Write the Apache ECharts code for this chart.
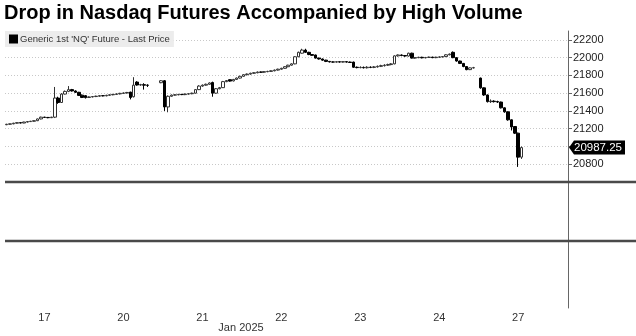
<!DOCTYPE html>
<html><head><meta charset="utf-8">
<script src="https://cdn.jsdelivr.net/npm/echarts@6/dist/echarts.min.js"></script>
<style>html,body{margin:0;padding:0;background:#fff}#c{width:636px;height:336px}</style>
</head><body><div id="c"></div>
<script>
// ---- data ----
const chartTitle = 'Drop in Nasdaq Futures Accompanied by High Volume';
const seriesName = "Generic 1st 'NQ' Future - Last Price";
const slotCount = 164;
const dayLabels = ['17', '20', '21', '22', '23', '24', '27'];
const daySlots = [11, 34, 57, 80, 103, 126, 149];
const monthLabel = 'Jan 2025';
const yTickValues = [20800, 21000, 21200, 21400, 21600, 21800, 22000, 22200];
const yLabelValues = [20800, 21200, 21400, 21600, 21800, 22000, 22200];
const lastPrice = 20987.25;
// [open, close, low, high]
const candles = [
[21245,21250,21240,21255],[21250,21255,21245,21258],[21255,21262,21250,21266],[21262,21268,21258,21272],
[21268,21264,21260,21272],[21264,21275,21262,21278],[21275,21280,21270,21284],[21280,21284,21276,21288],
[21284,21290,21280,21294],[21290,21310,21286,21314],[21310,21330,21305,21336],[21330,21327,21322,21334],
[21327,21324,21318,21332],[21324,21330,21320,21334],[21330,21545,21320,21670],[21545,21495,21480,21560],
[21495,21590,21490,21600],[21590,21620,21585,21630],[21620,21640,21612,21680],[21640,21625,21618,21648],
[21625,21610,21602,21632],[21610,21575,21568,21615],[21578,21552,21545,21585],[21572,21550,21540,21578],
[21552,21558,21548,21564],[21558,21562,21552,21568],[21562,21566,21556,21572],[21566,21572,21560,21578],
[21572,21570,21564,21578],[21570,21576,21565,21582],[21576,21582,21570,21588],[21582,21586,21576,21592],
[21586,21592,21580,21598],[21592,21598,21586,21604],[21598,21602,21592,21608],[21602,21608,21596,21614],
[21612,21552,21530,21616],[21560,21690,21552,21780],[21725,21692,21685,21735],[21692,21696,21684,21705],
[21696,21690,21640,21712],[21690,21688,21670,21700],'-','-',
'-',[21718,21740,21712,21748],[21740,21445,21400,21748],[21445,21565,21385,21575],
[21565,21578,21560,21585],[21578,21582,21572,21590],[21582,21586,21576,21592],[21586,21584,21578,21592],
[21584,21590,21578,21596],[21590,21594,21584,21600],[21594,21600,21588,21606],[21600,21640,21596,21646],
[21640,21680,21635,21690],[21680,21690,21672,21698],[21690,21700,21684,21708],[21700,21715,21694,21722],
[21720,21600,21560,21730],[21600,21650,21595,21658],[21650,21662,21644,21670],[21662,21730,21658,21738],
[21730,21742,21724,21748],[21752,21736,21730,21756],[21738,21755,21732,21760],[21755,21770,21750,21776],
[21770,21790,21765,21796],[21790,21808,21785,21814],[21808,21815,21800,21822],[21815,21824,21808,21830],
[21824,21830,21818,21836],[21830,21838,21824,21844],[21838,21836,21830,21844],[21836,21842,21830,21848],
[21842,21845,21836,21852],[21845,21852,21840,21858],[21852,21860,21846,21866],[21860,21870,21854,21876],
[21870,21880,21864,21886],[21880,21898,21875,21904],[21898,21915,21892,21920],[21915,21930,21910,21936],
[21930,22010,21925,22016],[22010,22060,22005,22068],[22050,22085,22045,22100],[22085,22060,22052,22100],
[22060,22035,22028,22066],[22035,22026,22020,22040],[22030,21995,21990,22034],[21995,21985,21978,22000],
[21985,21972,21965,21990],[21972,21958,21950,21976],[21958,21952,21946,21962],[21952,21950,21944,21958],
[21950,21954,21944,21960],[21954,21950,21944,21958],[21950,21955,21945,21960],[21955,21950,21944,21960],
[21950,21946,21940,21956],[21950,21892,21885,21955],[21892,21888,21880,21900],[21888,21890,21880,21902],
[21890,21886,21878,21900],[21886,21892,21878,21904],[21892,21890,21882,21902],[21890,21896,21882,21906],
[21896,21902,21888,21912],[21902,21910,21894,21920],[21910,21915,21900,21926],[21915,21922,21906,21932],
[21922,21930,21914,21938],[21930,22020,21925,22026],[22020,22030,22012,22036],[22030,22024,22016,22036],
[22024,22018,22010,22030],[22018,22050,22012,22056],[22050,21995,21990,22056],[21995,22000,21988,22006],
[22000,22004,21994,22010],[22004,21998,21992,22010],[21998,22002,21992,22008],[22002,22006,21996,22012],
[22006,22000,21994,22010],[22000,22005,21994,22010],[22005,22008,21998,22014],[22008,22012,22002,22018],
[22012,22032,22006,22038],[22032,22040,22026,22046],[22060,22000,21994,22070],[22000,21962,21955,22005],
[21962,21935,21928,21966],[21935,21900,21892,21940],[21900,21865,21858,21905],[21865,21885,21860,21890],
[21885,21887,21878,21896],'-',[21770,21660,21650,21775],[21660,21580,21570,21665],
[21580,21505,21495,21585],[21505,21510,21490,21530],[21510,21505,21495,21520],[21505,21500,21490,21515],
[21500,21435,21428,21505],[21435,21390,21380,21440],[21390,21300,21290,21395],[21300,21220,21180,21305],
[21225,21150,21140,21230],[21150,20880,20770,21155],[20880,20987.25,20860,21000]
];

// ---- build ----
const categories = Array.from({length: slotCount}, (_, i) => {
  const k = daySlots.indexOf(i); return k >= 0 ? dayLabels[k] : '';
});
const seriesData = Array.from({length: slotCount}, (_, i) => candles[i] !== undefined ? candles[i] : '-');

const L = 5, W = 563, T0 = 31, H0 = 151, H1 = 59, H2 = 67;
const T1 = T0 + H0, T2 = T1 + H1;
const font = 'Liberation Sans';

const chart = echarts.init(document.getElementById('c'), null, {renderer: 'canvas'});
const hiddenX = (gi) => ({type: 'category', gridIndex: gi, data: categories, boundaryGap: true,
  axisLine: {show: false}, axisTick: {show: false}, axisLabel: {show: false}, splitLine: {show: false}});
const lineY = (gi) => ({type: 'value', gridIndex: gi, position: 'right', min: 0, max: 1,
  axisLine: {show: true, lineStyle: {color: '#666', width: 1}}, axisTick: {show: false},
  axisLabel: {show: false}, splitLine: {show: false}});

chart.setOption({
  animation: false,
  backgroundColor: '#fff',
  title: {text: chartTitle, left: 4, top: 3, padding: 0,
    textStyle: {fontSize: 20, fontWeight: 'bold', color: '#000', fontFamily: font}},
  legend: {left: 5, top: 31, padding: [3, 4, 3, 4], backgroundColor: '#ececec',
    itemWidth: 7, itemHeight: 7, icon: 'rect', itemGap: 4,
    textStyle: {fontSize: 9.5, color: '#333', fontFamily: font, padding: [0, 0, 0, -2]},
    data: [{name: seriesName, itemStyle: {color: '#000', borderColor: '#000'}}]},
  grid: [
    {left: L, top: T0, width: W, height: H0},
    {left: L, top: T1, width: W, height: H1},
    {left: L, top: T2, width: W, height: H2}
  ],
  xAxis: [hiddenX(0), hiddenX(1), Object.assign(hiddenX(2), {
    axisLabel: {show: true, interval: (i) => daySlots.includes(i), fontSize: 11, color: '#333',
      fontFamily: font, margin: 4}
  })],
  yAxis: [
    {type: 'value', gridIndex: 0, position: 'right', min: 20600, max: 22300, scale: true,
      axisLine: {show: true, lineStyle: {color: '#666', width: 1}},
      axisTick: {show: true, length: 4, customValues: yTickValues, lineStyle: {color: '#666'}},
      axisLabel: {customValues: yLabelValues, fontSize: 11, color: '#222', fontFamily: font, margin: 5,
        formatter: (v) => String(v)},
      splitLine: {show: true, lineStyle: {color: '#c8c8c8', type: [1, 2], width: 1}}
    },
    lineY(1), lineY(2)
  ],
  series: [{
    name: seriesName, type: 'candlestick', xAxisIndex: 0, yAxisIndex: 0,
    data: seriesData, barWidth: 3,
    itemStyle: {color: '#fff', color0: '#000', borderColor: '#333', borderColor0: '#000', borderWidth: 1}
  }]
});

const yLast = chart.convertToPixel({yAxisIndex: 0}, lastPrice);
const xAx = L + W;
chart.setOption({
  graphic: [
    {type: 'line', shape: {x1: L, y1: T1, x2: 636, y2: T1}, style: {stroke: '#4a4a4a', lineWidth: 2.5}, z: 100},
    {type: 'line', shape: {x1: L, y1: T2, x2: 636, y2: T2}, style: {stroke: '#4a4a4a', lineWidth: 2.5}, z: 100},
    {type: 'polygon', shape: {points: [[xAx + 1, yLast], [xAx + 6, yLast - 7], [xAx + 57, yLast - 7], [xAx + 57, yLast + 7], [xAx + 6, yLast + 7]]},
      style: {fill: '#000'}, z: 100},
    {type: 'text', x: xAx + 6, y: yLast, style: {text: lastPrice.toFixed(2), fill: '#fff', font: '11.5px ' + font,
      textVerticalAlign: 'middle'}, z: 101},
    {type: 'text', x: 241, y: 328, style: {text: monthLabel, fill: '#333', font: '11px ' + font,
      textAlign: 'center', textVerticalAlign: 'middle'}, z: 100}
  ]
});
</script></body></html>
